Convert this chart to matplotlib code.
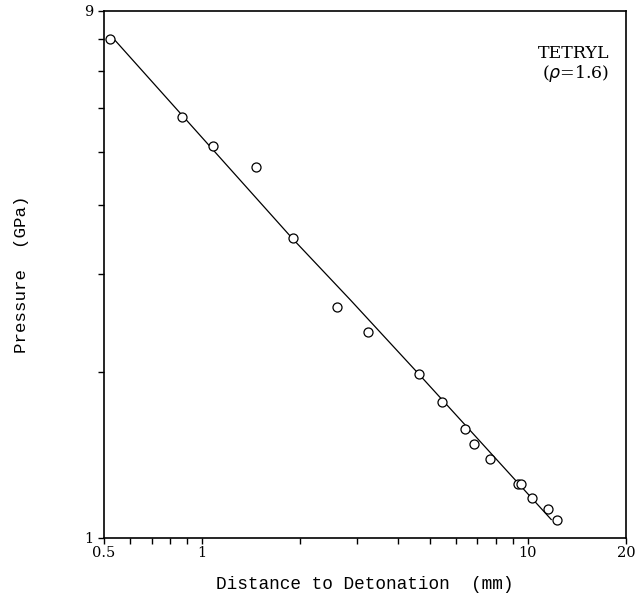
import matplotlib
matplotlib.use("Agg")
import matplotlib.pyplot as plt
from matplotlib.ticker import FixedLocator, NullFormatter

# measured points (distance mm, pressure GPa)
distance = [0.52, 0.87, 1.08, 1.46, 1.90, 2.59, 3.24, 4.63, 5.45, 6.40,
            6.82, 7.65, 9.35, 9.53, 10.3, 11.5, 12.3]
pressure = [8.0, 5.78, 5.13, 4.70, 3.49, 2.62, 2.36, 1.98, 1.765, 1.575,
            1.48, 1.39, 1.25, 1.25, 1.18, 1.13, 1.08]

# fitted curve
fit_x = [0.54, 1.89, 2.85, 4.63, 11.8]
fit_y = [7.97, 3.49, 2.70, 1.98, 1.08]

x_major = [0.5, 1, 10, 20]
x_labels = ["0.5", "1", "10", "20"]
x_minor = [0.6, 0.7, 0.8, 0.9, 2, 3, 4, 5, 6, 7, 8, 9]
y_major = [1, 9]
y_labels = ["1", "9"]
y_minor = [2, 3, 4, 5, 6, 7, 8]

fig = plt.figure(figsize=(6.38, 6.07), dpi=100)
ax = fig.add_axes([0.163, 0.1137, 0.818, 0.8682])

ax.plot(fit_x, fit_y, color="black", lw=0.9)
ax.plot(distance, pressure, "o", mfc="white", mec="black", ms=6.5, mew=0.9)

ax.set_xscale("log")
ax.set_yscale("log")
ax.set_xlim(0.5, 20)
ax.set_ylim(1, 9)

ax.xaxis.set_major_locator(FixedLocator(x_major))
ax.xaxis.set_minor_locator(FixedLocator(x_minor))
ax.yaxis.set_major_locator(FixedLocator(y_major))
ax.yaxis.set_minor_locator(FixedLocator(y_minor))
ax.set_xticklabels(x_labels, family="DejaVu Serif", fontsize=10.5)
ax.set_yticklabels(y_labels, family="DejaVu Serif", fontsize=10.5)
ax.xaxis.set_minor_formatter(NullFormatter())
ax.yaxis.set_minor_formatter(NullFormatter())
ax.tick_params(which="both", direction="out", length=4, width=1, color="black")
ax.tick_params(axis="x", pad=2)

for s in ax.spines.values():
    s.set_linewidth(1.2)

ax.set_xlabel("Distance to Detonation  (mm)", family="Liberation Mono",
              fontsize=12.8, labelpad=11)
ax.set_ylabel("Pressure  (GPa)", family="Liberation Mono",
              fontsize=12.6, labelpad=40)

ax.text(0.968, 0.935, "TETRYL\n($\\rho$=1.6)", transform=ax.transAxes,
        ha="right", va="top", family="DejaVu Serif", fontsize=12.5,
        linespacing=1.05)

fig.savefig("out.png", dpi=100)
